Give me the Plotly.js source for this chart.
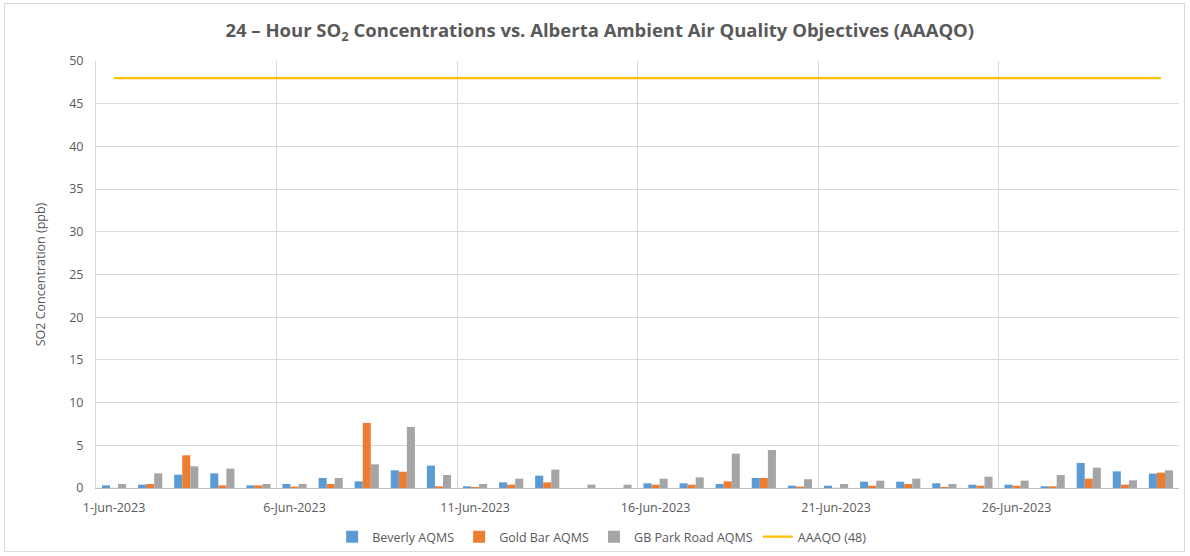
<!DOCTYPE html>
<html>
<head>
<meta charset="utf-8">
<script src="https://cdn.plot.ly/plotly-3.0.1.min.js"></script>
<style>
html,body{margin:0;padding:0;background:#fff;}
#wrap{position:absolute;left:4px;top:3px;width:1181px;height:549px;border:1px solid #d9d9d9;box-sizing:border-box;}
#chart{position:absolute;left:0;top:0;width:1190px;height:556px;}
</style>
</head>
<body>
<div id="wrap"></div>
<div id="chart"></div>
<script>
const days = [];
for (let d = 1; d <= 30; d++) days.push(d + '-Jun-2023');
const dayIdx = days.map((_, i) => i);

const beverly = [0.31,0.39,1.56,1.72,0.31,0.47,1.17,0.78,2.07,2.62,
                 0.20,0.66,1.45,0,0,0.55,0.55,0.47,1.17,0.27,
                 0.27,0.74,0.74,0.55,0.39,0.39,0.20,2.93,1.95,1.68];
const goldBar = [0.02,0.47,3.83,0.31,0.31,0.16,0.47,7.62,1.91,0.20,
                 0.12,0.39,0.66,0,0,0.39,0.39,0.78,1.17,0.16,
                 0.02,0.27,0.47,0.12,0.27,0.27,0.20,1.09,0.39,1.80];
const gbPark = [0.47,1.72,2.54,2.27,0.47,0.47,1.17,2.77,7.15,1.52,
                0.47,1.09,2.15,0.39,0.39,1.09,1.25,4.02,4.45,1.02,
                0.47,0.86,1.09,0.47,1.33,0.86,1.52,2.38,0.90,2.07];
const objective = days.map(() => 48);

const labelIdx = [0,5,10,15,20,25];
const labelText = labelIdx.map(i => days[i]);
const boundaries = [-0.5,4.5,9.5,14.5,19.5,24.5,29.5];

const font = "'Open Sans', 'Liberation Sans', sans-serif";
const grey = '#595959';

const traces = [
  {type:'bar', name:'Beverly AQMS', x:dayIdx, y:beverly, marker:{color:'#5b9bd5'}},
  {type:'bar', name:'Gold Bar AQMS', x:dayIdx, y:goldBar, marker:{color:'#ed7d31'}},
  {type:'bar', name:'GB Park Road AQMS', x:dayIdx, y:gbPark, marker:{color:'#a5a5a5'}},
  {type:'scatter', mode:'lines', name:'AAAQO (48)', x:dayIdx, y:objective, xaxis:'x2',
   line:{color:'#ffc000', width:2.25}}
];

const layout = {
  width:1190, height:556,
  margin:{l:96, r:11, t:61, b:68, autoexpand:false},
  paper_bgcolor:'rgba(0,0,0,0)', plot_bgcolor:'rgba(0,0,0,0)',
  font:{family:font, color:grey, size:12},
  title:{text:'24 – Hour SO<sub>2</sub> Concentrations vs. Alberta Ambient Air Quality Objectives (AAAQO)',
         font:{family:font, size:18.5, color:grey, weight:'bold'}, x:0.504, xanchor:'center', y:0.945, yanchor:'middle'},
  barmode:'group', bargap:0.33, bargroupgap:0,
  xaxis:{range:[-0.5,29.5], tickvals:labelIdx, ticktext:labelText, showgrid:false, zeroline:false,
         showline:true, linecolor:'#bfbfbf', linewidth:1, ticks:'', ticklabelstandoff:8,
         tickfont:{size:12.5, color:grey}},
  xaxis2:{overlaying:'x', matches:'x', range:[-0.5,29.5], tickvals:boundaries, showticklabels:false,
          showgrid:true, gridcolor:'#d9d9d9', gridwidth:1, zeroline:false, ticks:''},
  yaxis:{range:[0,50], dtick:5, tick0:0, showgrid:true, gridcolor:'#d9d9d9', gridwidth:1, zeroline:false,
         showline:true, linecolor:'#d9d9d9', ticks:'', ticklabelstandoff:9, tickfont:{size:12.5, color:grey},
         title:{text:'SO2 Concentration (ppb)', font:{size:12.5, color:grey}, standoff:20}},
  legend:{orientation:'h', xref:'container', yref:'container', x:0.506, xanchor:'center', y:0.034, yanchor:'middle',
          font:{size:12.5, color:grey}, traceorder:'normal', itemwidth:30, tracegroupgap:0},
  showlegend:true
};

Plotly.newPlot('chart', traces, layout, {displayModeBar:false, staticPlot:true});
</script>
</body>
</html>
